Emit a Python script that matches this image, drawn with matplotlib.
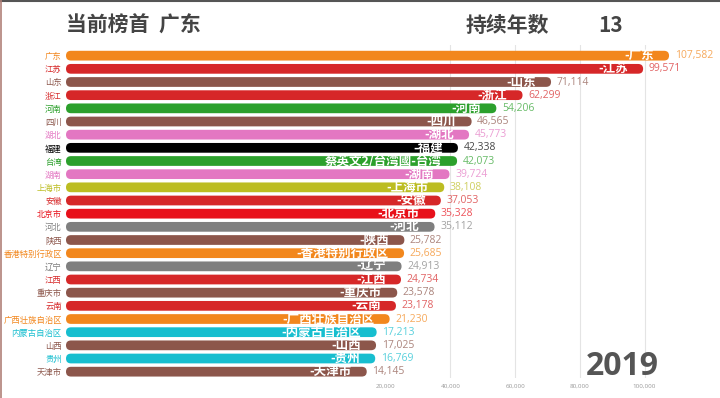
import matplotlib
matplotlib.use("Agg")
import matplotlib.pyplot as plt
from matplotlib.patches import FancyBboxPatch
from matplotlib.lines import Line2D
import matplotlib.colors as mcolors

plt.rcParams['font.family'] = ['Noto Sans CJK SC', 'DejaVu Sans']

regions = ["广东", "江苏", "山东", "浙江", "河南", "四川", "湖北", "福建", "台湾", "湖南",
           "上海市", "安徽", "北京市", "河北", "陕西", "香港特别行政区", "辽宁", "江西",
           "重庆市", "云南", "广西壮族自治区", "内蒙古自治区", "山西", "贵州", "天津市"]
values = [107582, 99571, 71114, 62299, 54206, 46565, 45773, 42338, 42073, 39724,
          38108, 37053, 35328, 35112, 25782, 25685, 24913, 24734, 23578, 23178,
          21230, 17213, 17025, 16769, 14145]
inner_labels = ["-广东", "-江苏", "-山东", "-浙江", "-河南", "-四川", "-湖北", "-福建",
                "蔡英文2/台湾國-台湾", "-湖南", "-上海市", "-安徽", "-北京市", "-河北", "-陕西",
                "-香港特别行政区", "-辽宁", "-江西", "-重庆市", "-云南", "-广西壮族自治区",
                "-内蒙古自治区", "-山西", "-贵州", "-天津市"]
colors = ["#f2871d", "#d62728", "#8c564b", "#d62728", "#2ca02c", "#8c564b", "#e377c2",
          "#000000", "#2ca02c", "#e377c2", "#bcbd22", "#d62728", "#e8101a", "#7f7f7f",
          "#8c564b", "#f2871d", "#7f7f7f", "#d62728", "#8c564b", "#d62728", "#f2871d",
          "#17becf", "#8c564b", "#17becf", "#8c564b"]
xticks = [20000, 40000, 60000, 80000, 100000]
year = "2019"
leader = "广东"
years_on_top = 13

W, H = 720, 398
fig = plt.figure(figsize=(W / 100, H / 100), dpi=100)
fig.patch.set_facecolor("white")

n = len(regions)
ax_left_px, ax_right_px = 66, 700
ax_top_px, ax_bot_px = 45, 378
ax = fig.add_axes([ax_left_px / W, 1 - ax_bot_px / H,
                   (ax_right_px - ax_left_px) / W, (ax_bot_px - ax_top_px) / H])

x0 = -78800
x1 = 117150
ax.set_xlim(x0, x1)
ax.set_ylim(n - 1 + 0.48, -0.81)

bar_h = 0.74
ypos = list(range(n))
bars = ax.barh(ypos, [v - x0 for v in values], left=x0, height=bar_h, color=colors)

# replace with rounded bars
px_per_unit = (ax_right_px - ax_left_px) / (x1 - x0)
r_px = 5.0
R = r_px / px_per_unit
aspect = (bar_h / 2) / R
for p, c in zip(bars.patches, colors):
    bb = p.get_bbox()
    fb = FancyBboxPatch((bb.xmin, bb.ymin), bb.width, bb.height,
                        boxstyle=f"round,pad=0,rounding_size={R}",
                        mutation_aspect=aspect, facecolor=c, edgecolor="none",
                        zorder=2)
    ax.add_patch(fb)
    p.set_visible(False)

for y, v, lab, c in zip(ypos, values, inner_labels, colors):
    ax.annotate(lab, xy=(v, y), xytext=(-11, 0), textcoords="offset points",
                ha="right", va="center", color="white", fontsize=9,
                fontweight="bold", zorder=3)
    rgb = mcolors.to_rgb(c)
    light = tuple(0.72 * a + 0.28 for a in rgb)
    ax.annotate(f"{v:,}", xy=(v, y), xytext=(4, 0), textcoords="offset points",
                ha="left", va="center", color=light, fontsize=7.5,
                family=["Open Sans", "DejaVu Sans"], zorder=3)

ax.set_yticks(ypos)
ax.set_yticklabels(regions, fontsize=6)
for t, c in zip(ax.get_yticklabels(), colors):
    t.set_color(c)
ax.tick_params(axis="y", length=0, pad=3)

ax.set_xticks(xticks)
ax.set_xticklabels([f"{t:,}" for t in xticks], fontsize=4.5, color="#999999",
                   family=["Open Sans", "DejaVu Sans"])
ax.tick_params(axis="x", length=0, pad=4)
ax.grid(axis="x", color="#e4e4e4", linewidth=0.8, zorder=0)
gl = ax.get_xgridlines()
if gl:
    gl[0].set_visible(False)
ax.set_axisbelow(True)
for s in ax.spines.values():
    s.set_visible(False)
ax.set_facecolor("none")

fig.text(66 / W, 1 - 25 / H, f"当前榜首  {leader}", fontsize=15, fontweight="bold",
         color="#444444", ha="left", va="center")
fig.text(466 / W, 1 - 25 / H, "持续年数", fontsize=15, fontweight="bold",
         color="#444444", ha="left", va="center")
fig.text(598 / W, 1 - 25 / H, f"{years_on_top}", fontsize=15, fontweight="bold",
         color="#444444", ha="left", va="center")
fig.text(659 / W, 1 - 375 / H, year, fontsize=23, fontweight="bold", color="#555555",
         ha="right", va="baseline", family=["Open Sans", "DejaVu Sans"])

# frame edges
fig.add_artist(Line2D([0, 1], [1 - 0.6 / H, 1 - 0.6 / H], transform=fig.transFigure,
                      color="#555555", linewidth=1.5))
fig.add_artist(Line2D([0.8 / W, 0.8 / W], [0, 1], transform=fig.transFigure,
                      color="#b08078", linewidth=1.2))

fig.savefig("out.png", dpi=100)
